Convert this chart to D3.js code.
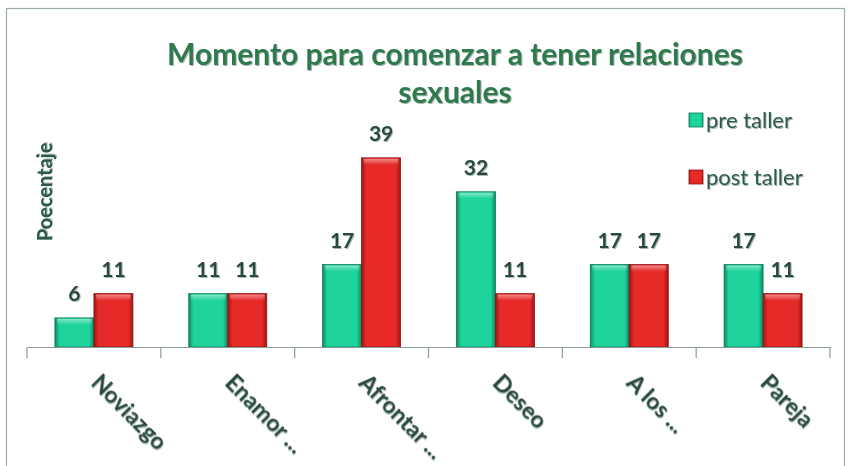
<!DOCTYPE html>
<html><head><meta charset="utf-8">
<script src="https://cdn.jsdelivr.net/npm/d3@7"></script>
<style>body{margin:0;background:#fff}svg{display:block}</style>
</head><body>
<script>
const categories = ["Noviazgo","Enamor ...","Afrontar ...","Deseo","A los ...","Pareja"];
const seriesNames = ["pre taller","post taller"];
const preTaller = [6,11,17,32,17,17];
const postTaller = [11,11,39,11,17,11];
const titleLines = ["Momento para comenzar a tener relaciones","sexuales"];
const yTitle = "Poecentaje";

const W=850,H=466;
const svg=d3.select("body").append("svg").attr("width",W).attr("height",H);
const defs=svg.append("defs");
function grad(id,edge,mid){
  const g=defs.append("linearGradient").attr("id",id).attr("x1","0").attr("x2","1").attr("y1","0").attr("y2","0");
  g.append("stop").attr("offset","0%").attr("stop-color",edge);
  g.append("stop").attr("offset","12%").attr("stop-color",mid);
  g.append("stop").attr("offset","88%").attr("stop-color",mid);
  g.append("stop").attr("offset","100%").attr("stop-color",edge);
}
grad("gGreen","#0b8a60","#1ed39c");
grad("gRed","#9e1414","#e52a28");
const hl=defs.append("linearGradient").attr("id","hl").attr("x1","0").attr("x2","0").attr("y1","0").attr("y2","1");
hl.append("stop").attr("offset","0%").attr("stop-color","#fff").attr("stop-opacity",0.45);
hl.append("stop").attr("offset","100%").attr("stop-color","#fff").attr("stop-opacity",0);
const sh=defs.append("filter").attr("id","ts").attr("x","-10%").attr("y","-10%").attr("width","130%").attr("height","140%");
sh.append("feDropShadow").attr("dx",1).attr("dy",1).attr("stdDeviation",0.6).attr("flood-color","#6a8a7a").attr("flood-opacity",0.6);

svg.append("rect").attr("x",6.5).attr("y",8.5).attr("width",838).attr("height",470)
  .attr("fill","none").attr("stroke","#9aaea6").attr("stroke-width",1.2);

const x0=d3.scaleBand().domain(categories).range([27,830]);
const x1=d3.scaleBand().domain(seriesNames).range([0,78]);
const y=d3.scaleLinear().domain([0,40]).range([347,153]);
const colors={"pre taller":"url(#gGreen)","post taller":"url(#gRed)"};
const rows=categories.map((c,i)=>({c,vals:[{s:"pre taller",v:preTaller[i]},{s:"post taller",v:postTaller[i]}]}));

const g=svg.append("g");
const grp=g.selectAll("g.grp").data(rows).join("g")
  .attr("transform",d=>`translate(${x0(d.c)+(x0.bandwidth()-78)/2},0)`);
grp.selectAll("rect.bar").data(d=>d.vals).join("rect").attr("class","bar")
  .attr("x",d=>x1(d.s)).attr("width",x1.bandwidth()).attr("y",d=>y(d.v)).attr("height",d=>y(0)-y(d.v))
  .attr("fill",d=>colors[d.s]).attr("stroke",d=>d.s==="pre taller"?"#0a7a55":"#8e1212").attr("stroke-width",0.8);
grp.selectAll("rect.hl").data(d=>d.vals).join("rect").attr("class","hl")
  .attr("x",d=>x1(d.s)+2).attr("width",x1.bandwidth()-4).attr("y",d=>y(d.v)+1).attr("height",6)
  .attr("fill","url(#hl)");
grp.selectAll("text.val").data(d=>d.vals).join("text").attr("class","val")
  .attr("x",d=>x1(d.s)+x1.bandwidth()/2).attr("y",d=>y(d.v)-17)
  .attr("text-anchor","middle").attr("font-family","Lato, 'Open Sans', sans-serif").attr("font-weight","bold")
  .attr("font-size",21).attr("fill","#2b4a3e").attr("filter","url(#ts)").text(d=>d.v);

// x axis
const ax=svg.append("g").attr("transform","translate(0,347)")
  .call(d3.axisBottom(x0).tickSize(0).tickFormat(""));
ax.select(".domain").attr("stroke","#8c9c98").attr("stroke-width",1.2);
const bounds=categories.map(c=>x0(c)).concat([x0.range()[1]]);
ax.selectAll("line.tk").data(bounds).join("line").attr("class","tk")
  .attr("x1",d=>d).attr("x2",d=>d).attr("y1",0).attr("y2",11).attr("stroke","#8c9c98").attr("stroke-width",1.2);
ax.selectAll("text.xl").data(categories).join("text").attr("class","xl")
  .attr("transform",d=>`translate(${x0(d)+x0.bandwidth()/2-4},${37}) rotate(45)`)
  .attr("text-anchor","start").attr("font-family","Lato, 'Open Sans', sans-serif").attr("font-weight","bold")
  .attr("font-size",23).attr("fill","#2b4a3e").attr("filter","url(#ts)").text(d=>d);

// title
svg.selectAll("text.title").data(titleLines).join("text").attr("class","title")
  .attr("x",455).attr("y",(d,i)=>65+i*38).attr("text-anchor","middle")
  .attr("font-family","Lato, 'Open Sans', sans-serif").attr("font-weight","bold").attr("font-size",30)
  .attr("fill","#2f7a4e").attr("filter","url(#ts)").text(d=>d);

// y title
svg.append("text").attr("transform","translate(52,192) rotate(-90)").attr("text-anchor","middle")
  .attr("font-family","Lato, 'Open Sans', sans-serif").attr("font-weight","bold").attr("font-size",20)
  .attr("fill","#2b5a46").attr("filter","url(#ts)").text(yTitle);

// legend
const lg=svg.selectAll("g.lg").data(seriesNames).join("g").attr("class","lg")
  .attr("transform",(d,i)=>`translate(689,${113+i*57})`);
lg.append("rect").attr("width",14).attr("height",14).attr("fill",d=>colors[d])
  .attr("stroke",d=>d==="pre taller"?"#0a7a55":"#8e1212").attr("stroke-width",0.8);
lg.append("text").attr("x",17).attr("y",15).attr("font-family","Lato, 'Open Sans', sans-serif")
  .attr("font-size",22).attr("fill","#2d5a48").attr("filter","url(#ts)").text(d=>d);
</script>
</body></html>
